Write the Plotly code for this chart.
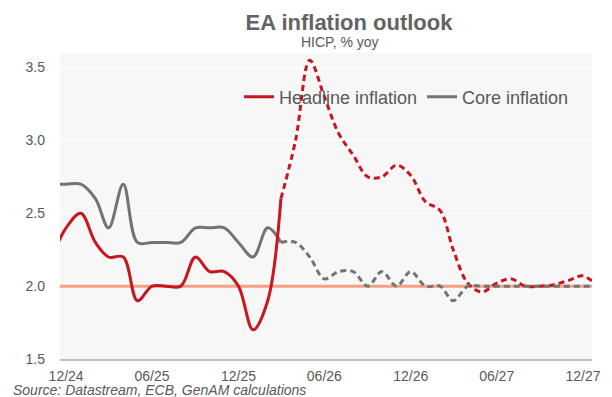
import plotly.graph_objects as go
import pandas as pd

# ---- data ----
dates = pd.date_range("2024-11-01", "2028-01-01", freq="MS")

headline = [2.2, 2.4, 2.5, 2.3, 2.2, 2.2, 1.9, 2.0, 2.0, 2.0, 2.2, 2.1, 2.1, 2.0, 1.7, 1.9, 2.6,
            3.0, 3.55, 3.3, 3.05, 2.9, 2.75, 2.75, 2.83, 2.76, 2.58, 2.52, 2.25, 2.02, 1.96,
            2.02, 2.05, 2.0, 2.0, 2.01, 2.04, 2.07, 2.0]
core = [2.7, 2.7, 2.7, 2.6, 2.4, 2.7, 2.3, 2.3, 2.3, 2.3, 2.4, 2.4, 2.4, 2.3, 2.2, 2.4, 2.3,
        2.3, 2.2, 2.05, 2.1, 2.1, 2.0, 2.1, 2.0, 2.1, 2.0, 2.0, 1.9, 2.0, 2.0,
        2.0, 2.0, 2.0, 2.0, 2.0, 2.0, 2.0, 2.0]
n_actual = 17  # Nov-24 .. Mar-26 observed, forecast afterwards
target = 2.0

RED = "#C8161E"
GRAY = "#737373"
ORANGE = "#F4A184"

PLOT_TOP, PLOT_BOTTOM, PLOT_LEFT, PLOT_RIGHT = 53, 359, 60, 601


def py(px):
    return (PLOT_BOTTOM - px) / (PLOT_BOTTOM - PLOT_TOP)


def pxx(px):
    return (px - PLOT_LEFT) / (PLOT_RIGHT - PLOT_LEFT)


fig = go.Figure()
fig.add_trace(go.Scatter(x=[dates[0], dates[-1]], y=[target, target], mode="lines",
                         line=dict(color=ORANGE, width=3), showlegend=False, hoverinfo="skip"))
fig.add_trace(go.Scatter(x=dates[n_actual - 1:], y=headline[n_actual - 1:], mode="lines",
                         line=dict(color=RED, width=3, dash="6px,4px", shape="spline", smoothing=1),
                         showlegend=False))
fig.add_trace(go.Scatter(x=dates[:n_actual], y=core[:n_actual], mode="lines", name="Core inflation",
                         line=dict(color=GRAY, width=3, shape="spline", smoothing=1), legendrank=2))
fig.add_trace(go.Scatter(x=dates[n_actual - 1:], y=core[n_actual - 1:], mode="lines",
                         line=dict(color=GRAY, width=3, dash="6px,4px", shape="spline", smoothing=1),
                         showlegend=False))
fig.add_trace(go.Scatter(x=dates[:n_actual], y=headline[:n_actual], mode="lines", name="Headline inflation",
                         line=dict(color=RED, width=3, shape="spline", smoothing=1), legendrank=1))

fig.update_layout(
    width=612, height=397,
    margin=dict(l=PLOT_LEFT, r=612 - PLOT_RIGHT, t=PLOT_TOP, b=397 - PLOT_BOTTOM),
    paper_bgcolor="white", plot_bgcolor="#F7F7F7",
    font=dict(family="Liberation Sans, Arial, sans-serif", color="#595959", size=14),
    title=dict(text="<b>EA inflation outlook</b>", x=349 / 612, xref="container", xanchor="center",
               y=1 - 22 / 397, yref="container", yanchor="middle",
               font=dict(size=22, color="#636363")),
    legend=dict(orientation="h", x=pxx(242), xanchor="left", y=py(97), yanchor="middle",
                bgcolor="rgba(0,0,0,0)", font=dict(size=18, color="#595959"), traceorder="normal"),
    showlegend=True,
)
fig.add_annotation(text="HICP, % yoy", xref="paper", yref="paper", x=pxx(345), y=py(42),
                   xanchor="center", yanchor="middle", showarrow=False, font=dict(size=14, color="#595959"))
fig.add_annotation(text="<i>Source: Datastream, ECB, GenAM calculations</i>", xref="paper", yref="paper",
                   x=pxx(10), y=py(390), xanchor="left", yanchor="middle", showarrow=False,
                   font=dict(size=14, color="#595959"))

fig.update_xaxes(type="date", range=["2024-11-18", "2027-12-20"], tick0="2024-12-01", dtick="M6",
                 tickformat="%m/%y", showgrid=False, showline=True, linecolor="#BFBFBF", linewidth=1.5,
                 ticks="", ticklabelstandoff=3, tickfont=dict(size=14, color="#595959"), zeroline=False)
fig.update_yaxes(range=[1.5, 3.6], dtick=0.5, tick0=1.5, tickformat=".1f", showgrid=True,
                 gridcolor="white", gridwidth=1, showline=False, zeroline=False, ticks="",
                 ticklabelstandoff=14, tickfont=dict(size=14, color="#595959"))

fig.write_html("out.html")
